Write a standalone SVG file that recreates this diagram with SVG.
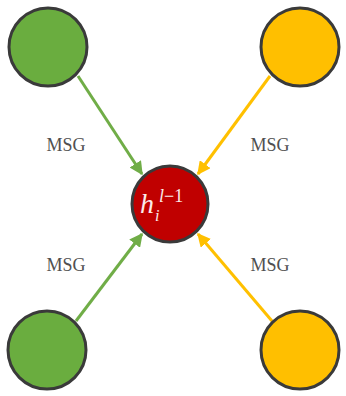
<svg xmlns="http://www.w3.org/2000/svg" width="346" height="396" viewBox="0 0 346 396">
<style>
.node{stroke:#3a3a3a;stroke-width:3}
.g{fill:#6aad3f}
.y{fill:#ffbf00}
.r{fill:#c00000}
.eg{stroke:#70ad47;stroke-width:3;fill:none}
.ey{stroke:#ffc000;stroke-width:3;fill:none}
.lbl{font-family:"Liberation Serif",serif;font-size:18px;fill:#505050;text-anchor:middle}
.ht{font-family:"Liberation Serif",serif;font-style:italic;fill:#fbeaea}
</style>
<defs>
<marker id="ag" viewBox="0 0 10 10" refX="9" refY="5" markerWidth="4.5" markerHeight="4.5" orient="auto"><path d="M0,0 L10,5 L0,10 z" fill="#70ad47"/></marker>
<marker id="ay" viewBox="0 0 10 10" refX="9" refY="5" markerWidth="4.5" markerHeight="4.5" orient="auto"><path d="M0,0 L10,5 L0,10 z" fill="#ffc000"/></marker>
</defs>
<rect width="346" height="396" fill="#ffffff"/>
<g id="connectors">
<line class="eg" x1="78" y1="76" x2="142" y2="174" marker-end="url(#ag)"/>
<line class="ey" x1="270" y1="76" x2="198" y2="174" marker-end="url(#ay)"/>
<line class="eg" x1="76" y1="321" x2="142" y2="234" marker-end="url(#ag)"/>
<line class="ey" x1="272" y1="321" x2="198" y2="234" marker-end="url(#ay)"/>
</g>
<g id="n_tl"><circle class="node g" cx="48" cy="47" r="39"/></g>
<g id="n_tr"><circle class="node y" cx="300" cy="47" r="39"/></g>
<g id="n_bl"><circle class="node g" cx="47" cy="350" r="39"/></g>
<g id="n_br"><circle class="node y" cx="300" cy="350" r="39"/></g>
<g id="n_c">
<circle class="node r" cx="170" cy="204" r="38"/>
<text class="ht" x="140" y="213" font-size="28">h</text>
<text class="ht" x="155" y="221" font-size="16">i</text>
<text class="ht" x="159" y="202" font-size="18">l<tspan font-style="normal">−1</tspan></text>
</g>
<g id="labels">
<text class="lbl" x="66" y="151">MSG</text>
<text class="lbl" x="270" y="151">MSG</text>
<text class="lbl" x="66" y="271">MSG</text>
<text class="lbl" x="270" y="271">MSG</text>
</g>
</svg>
